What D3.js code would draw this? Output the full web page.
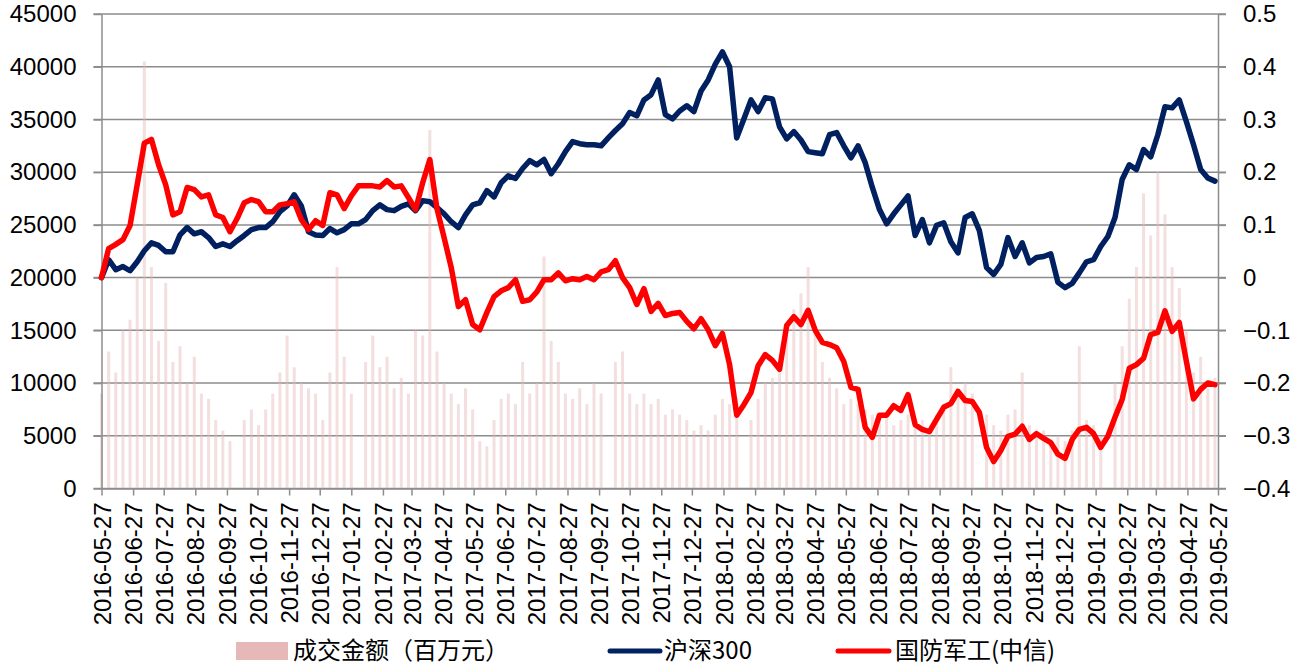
<!DOCTYPE html>
<html>
<head>
<meta charset="utf-8">
<script src="https://cdn.jsdelivr.net/npm/d3@7"></script>
<style>
  body { margin: 0; background: #fff; }
  text { font-family: "Liberation Sans", Arial, sans-serif; }
  .legend text { font-family: "Noto Sans CJK SC", "Liberation Sans", sans-serif; }
</style>
</head>
<body>
<svg id="chart" width="1294" height="667"></svg>
<script>
/* weekly observations, first one on 2016-05-27 */
const firstWeek = "2016-05-27";
const lastDay = "2019-05-27";

const monthTicks = [
  "2016-05-27","2016-06-27","2016-07-27","2016-08-27","2016-09-27","2016-10-27",
  "2016-11-27","2016-12-27","2017-01-27","2017-02-27","2017-03-27","2017-04-27",
  "2017-05-27","2017-06-27","2017-07-27","2017-08-27","2017-09-27","2017-10-27",
  "2017-11-27","2017-12-27","2018-01-27","2018-02-27","2018-03-27","2018-04-27",
  "2018-05-27","2018-06-27","2018-07-27","2018-08-27","2018-09-27","2018-10-27",
  "2018-11-27","2018-12-27","2019-01-27","2019-02-27","2019-03-27","2019-04-27",
  "2019-05-27"
];

const volumeTicks = [0,5000,10000,15000,20000,25000,30000,35000,40000,45000];
const returnTicks = [-0.4,-0.3,-0.2,-0.1,0,0.1,0.2,0.3,0.4,0.5];

// 成交金额（百万元）, null = holiday week
const volume = [
  9000,13000,11000,15000,16000,20000,40500,21000,14000,19500,
  12000,13500,10000,12500,9000,8500,6500,5500,4500,null,
  6500,7500,6000,7500,9000,11000,14500,11500,10000,9500,
  9000,6500,11000,21000,12500,9000,null,12000,14500,11500,
  12500,9500,10500,9000,15000,14500,34000,13000,10000,9000,
  8000,9500,7500,4500,4000,6500,8500,9000,8000,12000,
  9000,10000,22000,14000,12000,9000,8500,9500,8000,10000,
  9000,null,12000,13000,9000,8000,9000,8000,8500,7000,
  7500,7000,6500,5500,6000,5500,7000,8500,8000,8500,
  null,6500,8500,10000,10500,11000,15000,17000,18500,21000,
  15000,12000,10500,9500,8000,8500,8000,7500,7000,6500,
  7000,6000,6500,7000,6000,6500,5500,7000,8000,11500,
  9500,10000,9000,null,7000,6000,5500,7000,7500,11000,
  6000,5000,5500,4500,5000,4500,5500,13500,6500,6000,
  5000,null,10000,13500,18000,21000,28000,24000,30000,26000,
  21000,19000,15000,11000,12500,9500,10500
];

// 沪深300 cumulative return
const hs300 = [
  0,0.034,0.015,0.021,0.013,0.030,0.051,0.066,0.061,0.049,
  0.049,0.081,0.095,0.083,0.087,0.076,0.059,0.064,0.059,0.070,
  0.080,0.091,0.095,0.095,0.106,0.125,0.136,0.157,0.136,0.087,
  0.081,0.080,0.093,0.085,0.091,0.102,0.102,0.110,0.127,0.138,
  0.129,0.127,0.135,0.140,0.127,0.146,0.144,0.133,0.121,0.106,
  0.095,0.119,0.138,0.142,0.165,0.153,0.180,0.193,0.188,0.207,
  0.222,0.214,0.224,0.197,0.216,0.239,0.258,0.254,0.252,0.252,
  0.250,0.265,0.279,0.292,0.313,0.307,0.337,0.347,0.375,0.309,
  0.301,0.316,0.326,0.315,0.354,0.375,0.405,0.428,0.400,0.265,
  0.301,0.337,0.315,0.341,0.339,0.286,0.263,0.277,0.261,0.239,
  0.237,0.235,0.271,0.275,0.250,0.227,0.250,0.218,0.171,0.129,
  0.102,0.121,0.138,0.155,0.080,0.110,0.066,0.099,0.104,0.068,
  0.047,0.114,0.121,0.089,0.019,0.006,0.025,0.076,0.040,0.066,
  0.028,0.038,0.040,0.045,-0.009,-0.019,-0.011,0.009,0.030,0.034,
  0.059,0.078,0.114,0.186,0.214,0.205,0.243,0.229,0.271,0.324,
  0.322,0.337,0.296,0.252,0.205,0.189,0.183
];

// 国防军工(中信) cumulative return
const defense = [
  0,0.055,0.063,0.072,0.099,0.176,0.255,0.262,0.214,0.176,
  0.119,0.125,0.171,0.167,0.153,0.157,0.119,0.114,0.087,0.112,
  0.142,0.148,0.144,0.125,0.125,0.138,0.140,0.144,0.110,0.091,
  0.108,0.099,0.161,0.157,0.131,0.155,0.174,0.174,0.174,0.172,
  0.184,0.172,0.174,0.152,0.129,0.180,0.224,0.131,0.076,0.019,
  -0.055,-0.042,-0.089,-0.099,-0.066,-0.036,-0.025,-0.019,-0.004,-0.045,
  -0.042,-0.027,-0.004,-0.004,0.009,-0.006,-0.002,-0.004,0.002,-0.004,
  0.011,0.015,0.032,0.000,-0.019,-0.051,-0.021,-0.064,-0.049,-0.072,
  -0.068,-0.066,-0.083,-0.097,-0.078,-0.099,-0.129,-0.106,-0.165,-0.261,
  -0.241,-0.218,-0.167,-0.146,-0.157,-0.174,-0.091,-0.074,-0.089,-0.062,
  -0.100,-0.123,-0.127,-0.133,-0.159,-0.208,-0.212,-0.284,-0.303,-0.261,
  -0.261,-0.243,-0.252,-0.222,-0.279,-0.288,-0.292,-0.269,-0.246,-0.239,
  -0.216,-0.233,-0.235,-0.256,-0.322,-0.349,-0.328,-0.301,-0.297,-0.282,
  -0.307,-0.296,-0.305,-0.313,-0.335,-0.343,-0.307,-0.288,-0.284,-0.296,
  -0.322,-0.301,-0.265,-0.231,-0.172,-0.165,-0.153,-0.108,-0.104,-0.063,
  -0.102,-0.085,-0.159,-0.230,-0.212,-0.200,-0.203
];

const seriesNames = ["成交金额（百万元）", "沪深300", "国防军工(中信)"];
const colors = { volume: "#E6B9B8", hs300: "#002060", defense: "#FF0000", grid: "#8c8c8c" };

/* layout */
const plot = { left: 101.5, right: 1218, top: 14, bottom: 488.5 };
const parse = d3.timeParse("%Y-%m-%d");

const weeks = d3.timeDay.range(parse(firstWeek), d3.timeDay.offset(parse(lastDay), 1), 7);

const xScale = d3.scaleTime()
  .domain([parse(firstWeek), parse(lastDay)])
  .range([plot.left, plot.right]);

const yLeft = d3.scaleLinear().domain([0, 45000]).range([plot.bottom, plot.top]);
const yRight = d3.scaleLinear().domain([-0.4, 0.5]).range([plot.bottom, plot.top]);

const svg = d3.select("#chart");

/* gridlines */
svg.append("g")
  .attr("class", "grid")
  .selectAll("line")
  .data(volumeTicks)
  .enter()
  .append("line")
  .attr("x1", plot.left - 8)
  .attr("x2", plot.right + 8)
  .attr("y1", d => yLeft(d))
  .attr("y2", d => yLeft(d))
  .style("stroke", colors.grid)
  .style("stroke-width", 1.5);

/* volume bars */
const barData = weeks.map((d, i) => ({ date: d, v: volume[i] })).filter(d => d.v != null);
svg.append("g")
  .attr("class", "bars")
  .selectAll("rect")
  .data(barData)
  .enter()
  .append("rect")
  .attr("x", d => xScale(d.date) - 1.5)
  .attr("width", 3)
  .attr("y", d => yLeft(d.v))
  .attr("height", d => plot.bottom - yLeft(d.v))
  .style("fill", colors.volume)
  .style("opacity", 0.45);

/* axes */
function styleAxis(g) {
  g.select(".domain").style("stroke", colors.grid).style("stroke-width", 1.5);
  g.selectAll(".tick line").style("stroke", colors.grid).style("stroke-width", 1.5);
  g.selectAll(".tick text").style("font-size", "24px").style("fill", "#000");
}

svg.append("g")
  .attr("transform", `translate(${plot.left},0)`)
  .call(d3.axisLeft(yLeft).tickValues(volumeTicks).tickSize(8).tickSizeOuter(0).tickPadding(17)
    .tickFormat(d3.format("d")))
  .call(styleAxis);

svg.append("g")
  .attr("transform", `translate(${plot.right},0)`)
  .call(d3.axisRight(yRight).tickValues(returnTicks).tickSize(8).tickSizeOuter(0).tickPadding(17)
    .tickFormat(d => d3.format("~g")(+d.toFixed(1))))
  .call(styleAxis);

const xAxis = svg.append("g")
  .attr("transform", `translate(0,${plot.bottom})`)
  .call(d3.axisBottom(xScale).tickValues(monthTicks.map(parse)).tickSize(7).tickSizeOuter(0)
    .tickFormat(d3.timeFormat("%Y-%m-%d")))
  .call(styleAxis);

xAxis.selectAll(".tick text")
  .attr("transform", "rotate(-90)")
  .attr("x", -14)
  .attr("y", 0)
  .attr("dy", "0.36em")
  .style("text-anchor", "end");

/* lines */
const line = d3.line()
  .defined(d => d.v != null)
  .x(d => xScale(d.date))
  .y(d => yRight(d.v));

[["hs300", hs300], ["defense", defense]].forEach(([key, values]) => {
  svg.append("path")
    .datum(weeks.map((d, i) => ({ date: d, v: values[i] })))
    .attr("class", "line " + key)
    .attr("d", line)
    .style("fill", "none")
    .style("stroke", colors[key])
    .style("stroke-width", 5.5)
    .style("stroke-linejoin", "round")
    .style("stroke-linecap", "round");
});

/* legend */
const legend = svg.append("g").attr("class", "legend");
const legendY = 651;

legend.append("rect")
  .attr("x", 236).attr("y", legendY - 9).attr("width", 52).attr("height", 18)
  .style("fill", colors.volume);
legend.append("text")
  .attr("x", 293).attr("y", legendY).attr("dy", "0.35em")
  .style("font-size", "24px")
  .text(seriesNames[0]);

legend.append("line")
  .attr("x1", 610).attr("x2", 660).attr("y1", legendY).attr("y2", legendY)
  .style("stroke", colors.hs300).style("stroke-width", 5).style("stroke-linecap", "round");
legend.append("text")
  .attr("x", 664).attr("y", legendY).attr("dy", "0.35em")
  .style("font-size", "24px")
  .text(seriesNames[1]);

legend.append("line")
  .attr("x1", 838).attr("x2", 889).attr("y1", legendY).attr("y2", legendY)
  .style("stroke", colors.defense).style("stroke-width", 5).style("stroke-linecap", "round");
legend.append("text")
  .attr("x", 895).attr("y", legendY).attr("dy", "0.35em")
  .style("font-size", "24px")
  .text(seriesNames[2]);
</script>
</body>
</html>
